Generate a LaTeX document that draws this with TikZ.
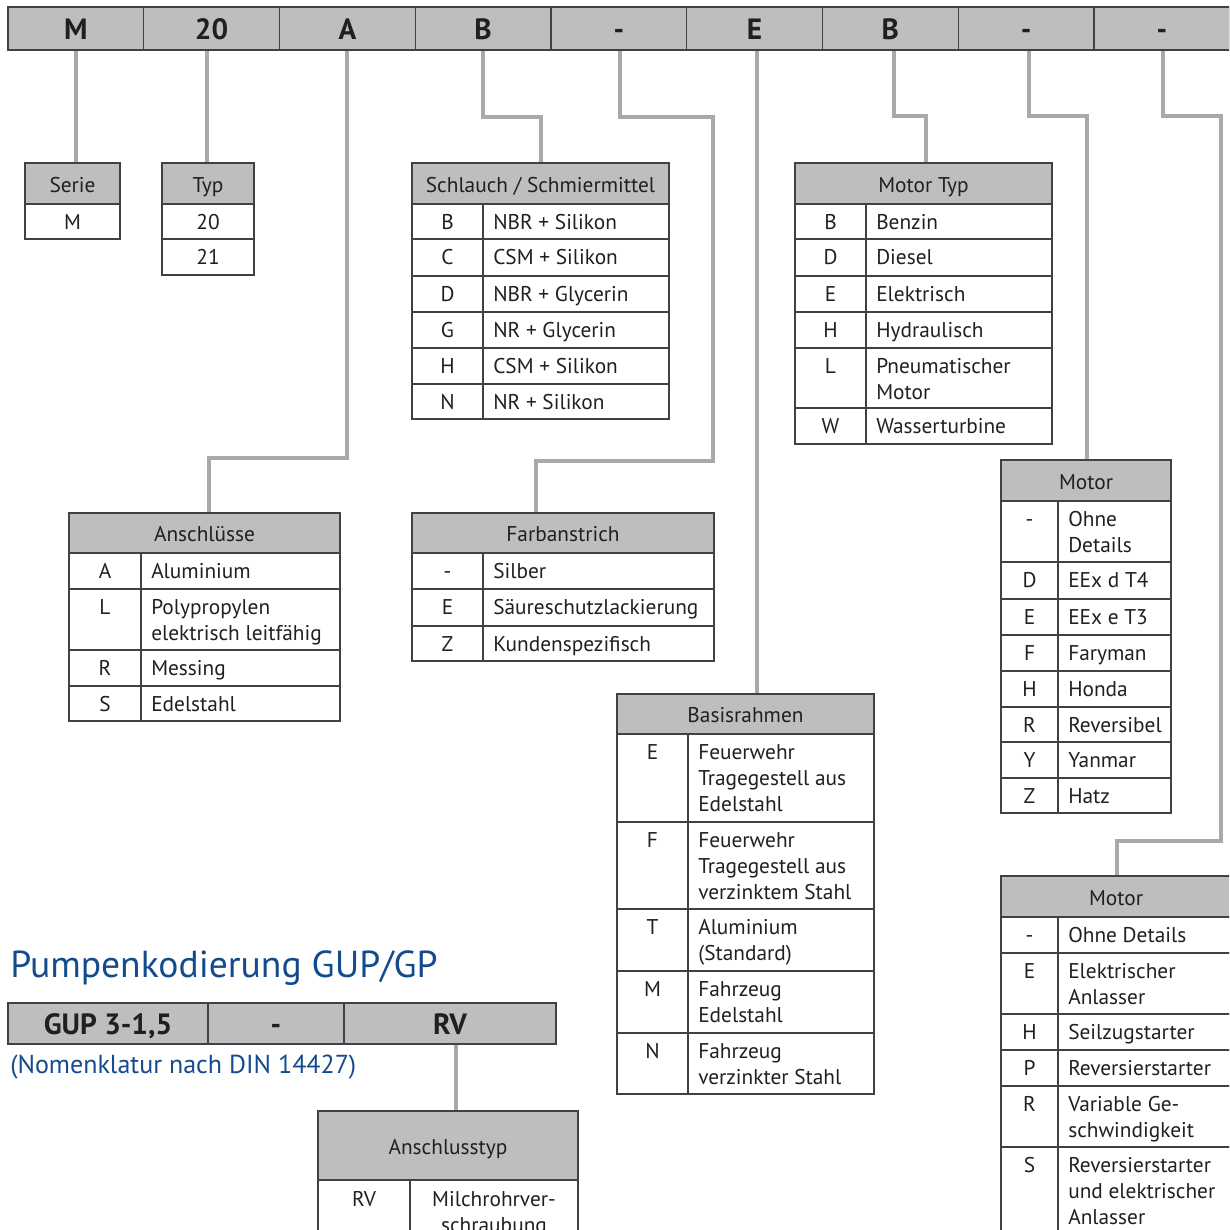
\documentclass[tikz,border=0pt]{standalone}
\usepackage{fontspec}
\setmainfont{PT Sans}
\definecolor{barfill}{RGB}{188,190,192}
\definecolor{connc}{RGB}{167,169,172}
\definecolor{bordc}{RGB}{65,64,66}
\definecolor{txtc}{RGB}{35,31,32}
\definecolor{titleblue}{RGB}{20,75,140}
\newcommand\bodyfont{\fontsize{16}{19.5}\selectfont}
\newcommand\ml[1]{\begin{tabular}[t]{@{}l@{}}#1\end{tabular}}
\newcommand\mc[1]{\begin{tabular}[t]{@{}c@{}}#1\end{tabular}}
% header: name x1 y1 x2 y2 text
\newcommand\hd[6]{\node[hdrbox, minimum width={(#4-#2)*0.75pt}, minimum height={(#5-#3)*0.75pt}] (#1) at ({(#2+#4)/2},{(#3+#5)/2}) {#6};}
% row: name x1 xd x2 y1 y2 key value
\newcommand\rw[8]{\draw[cellline] (#2,#5) rectangle (#4,#6); \draw[cellline] (#3,#5) -- (#3,#6);
 \node[txt, anchor=base] (#1k) at ({(#2+#3)/2},{#5+25.5}) {#7};
 \node[txt, anchor=base west] (#1v) at ({#3+10},{#5+25.5}) {\ml{#8}};}
% single column row: name x1 x2 y1 y2 text
\newcommand\rwone[6]{\draw[cellline] (#2,#4) rectangle (#3,#5);
 \node[txt, anchor=base] (#1) at ({(#2+#3)/2},{#4+25.5}) {#6};}
\pgfdeclarelayer{bg}
\pgfsetlayers{bg,main}
\begin{document}
\begin{tikzpicture}[x=0.75pt,y=-0.75pt,
  conn/.style={draw=connc, line width=3pt},
  barcell/.style={draw=bordc, fill=barfill, line width=1pt, minimum width=101.8125pt, minimum height=32.25pt, inner sep=0pt, font=\fontsize{22}{24}\selectfont\bfseries, text=txtc, text height=19.5pt, text depth=2.6pt},
  gupcell/.style={draw=bordc, fill=barfill, line width=1pt, minimum height=30.75pt, inner sep=0pt, font=\fontsize{22}{24}\selectfont\bfseries, text=txtc, text height=19.5pt, text depth=2.6pt},
  hdrbox/.style={draw=bordc, fill=barfill, line width=1pt, inner sep=0pt, font=\bodyfont, text=txtc, text height=15.5pt, text depth=2.5pt},
  cellline/.style={draw=bordc, fill=white, line width=1pt},
  txt/.style={inner sep=0pt, font=\bodyfont, text=txtc},
  ttl/.style={inner sep=0pt, text=titleblue, anchor=base west}]
\useasboundingbox (0,0) rectangle (1229,1230);
\clip (0,0) rectangle (1229,1230);

% top code bar
\foreach[count=\i] \t in {M,20,A,B,-,E,B,-,-}
  \node[barcell] (c\i) at ({8+135.75*(\i-0.5)},28.5) {\t};

% Serie
\hd{serie}{25}{163}{120}{204}{Serie}
\rwone{serieM}{25}{120}{204}{239}{M}
% Typ
\hd{typ}{162}{163}{254}{204}{Typ}
\rwone{typ20}{162}{254}{204}{239}{20}
\rwone{typ21}{162}{254}{239}{275}{21}
% Schlauch / Schmiermittel
\hd{schlauch}{412}{163}{669}{204}{Schlauch / Schmiermittel}
\rw{sa}{412}{483}{669}{204}{239}{B}{NBR + Silikon}
\rw{sb}{412}{483}{669}{239}{276}{C}{CSM + Silikon}
\rw{sc}{412}{483}{669}{276}{312}{D}{NBR + Glycerin}
\rw{sd}{412}{483}{669}{312}{348}{G}{NR + Glycerin}
\rw{se}{412}{483}{669}{348}{384}{H}{CSM + Silikon}
\rw{sf}{412}{483}{669}{384}{419}{N}{NR + Silikon}
% Motor Typ
\hd{mtyp}{795}{163}{1052}{204}{Motor Typ}
\rw{ta}{795}{866}{1052}{204}{239}{B}{Benzin}
\rw{tb}{795}{866}{1052}{239}{276}{D}{Diesel}
\rw{tc}{795}{866}{1052}{276}{312}{E}{Elektrisch}
\rw{td}{795}{866}{1052}{312}{348}{H}{Hydraulisch}
\rw{te}{795}{866}{1052}{348}{408}{L}{Pneumatischer\\Motor}
\rw{tf}{795}{866}{1052}{408}{444}{W}{Wasserturbine}
% Anschluesse
\hd{anschl}{69}{513}{340}{553}{Anschlüsse}
\rw{aa}{69}{141}{340}{553}{589}{A}{Aluminium}
\rw{ab}{69}{141}{340}{589}{650}{L}{Polypropylen\\elektrisch leitfähig}
\rw{ac}{69}{141}{340}{650}{686}{R}{Messing}
\rw{ad}{69}{141}{340}{686}{721}{S}{Edelstahl}
% Farbanstrich
\hd{farb}{412}{513}{714}{553}{Farbanstrich}
\rw{fa}{412}{483}{714}{553}{589}{-}{Silber}
\rw{fb}{412}{483}{714}{589}{626}{E}{Säureschutzlackierung}
\rw{fc}{412}{483}{714}{626}{661}{Z}{Kundenspezifisch}
% Basisrahmen
\hd{basis}{617}{694}{874}{734}{Basisrahmen}
\rw{ba}{617}{688}{874}{734}{822}{E}{Feuerwehr\\Tragegestell aus\\Edelstahl}
\rw{bb}{617}{688}{874}{822}{909}{F}{Feuerwehr\\Tragegestell aus\\verzinktem Stahl}
\rw{bc}{617}{688}{874}{909}{971}{T}{Aluminium\\(Standard)}
\rw{bd}{617}{688}{874}{971}{1033}{M}{Fahrzeug\\Edelstahl}
\rw{be}{617}{688}{874}{1033}{1094}{N}{Fahrzeug\\verzinkter Stahl}
% Motor 1
\hd{motorA}{1001}{460}{1171}{501}{Motor}
\rw{ma}{1001}{1058}{1171}{501}{562}{-}{Ohne\\Details}
\rw{mb}{1001}{1058}{1171}{562}{599}{D}{EEx d T4}
\rw{mc}{1001}{1058}{1171}{599}{635}{E}{EEx e T3}
\rw{md}{1001}{1058}{1171}{635}{671}{F}{Faryman}
\rw{me}{1001}{1058}{1171}{671}{707}{H}{Honda}
\rw{mf}{1001}{1058}{1171}{707}{742}{R}{Reversibel}
\rw{mg}{1001}{1058}{1171}{742}{778}{Y}{Yanmar}
\rw{mh}{1001}{1058}{1171}{778}{813}{Z}{Hatz}
% Motor 2
\hd{motorB}{1001}{876}{1231}{917}{Motor}
\rw{na}{1001}{1058}{1231}{917}{953}{-}{Ohne Details}
\rw{nb}{1001}{1058}{1231}{953}{1014}{E}{Elektrischer\\Anlasser}
\rw{nc}{1001}{1058}{1231}{1014}{1050}{H}{Seilzugstarter}
\rw{nd}{1001}{1058}{1231}{1050}{1086}{P}{Reversierstarter}
\rw{ne}{1001}{1058}{1231}{1086}{1147}{R}{Variable Ge-\\schwindigkeit}
\rw{nf}{1001}{1058}{1231}{1147}{1250}{S}{Reversierstarter\\und elektrischer\\Anlasser}

% Pumpenkodierung GUP/GP
\node[ttl, font=\fontsize{28.2}{33}\selectfont] (title) at (10,977) {Pumpenkodierung GUP/GP};
\node[gupcell, minimum width=150pt] (g1) at (108,1023.5) {GUP 3-1,5};
\node[gupcell, minimum width=102pt] (g2) at (276,1023.5) {-};
\node[gupcell, minimum width=159pt] (g3) at (450,1023.5) {RV};
\node[ttl, font=\fontsize{19.5}{23}\selectfont] (nomen) at (10,1073) {(Nomenklatur nach DIN 14427)};
\hd{atyp}{318}{1111}{578}{1180}{Anschlusstyp}
\draw[cellline] (318,1180) rectangle (578,1250); \draw[cellline] (410,1180) -- (410,1250);
\node[txt, anchor=base] (rvk) at (364,1206) {RV};
\node[txt, anchor=base] (rvv) at (494,1206) {\mc{Milchrohrver-\\schraubung}};

% connectors
\begin{pgfonlayer}{bg}
\coordinate (k1) at (76,100);
\draw[conn] (c1.south -| k1) -- (serie.north -| k1);
\coordinate (k2) at (207,100);
\draw[conn] (c2.south -| k2) -- (typ.north -| k2);
\coordinate (k3a) at (347,458); \coordinate (k3b) at (209,458);
\draw[conn] (c3.south -| k3a) -- (k3a) -- (k3b) -- (anschl.north -| k3b);
\coordinate (k4a) at (483,117); \coordinate (k4b) at (541,117);
\draw[conn] (c4.south -| k4a) -- (k4a) -- (k4b) -- (schlauch.north -| k4b);
\coordinate (k5a) at (620,117); \coordinate (k5b) at (713,117);
\coordinate (k5c) at (713,461); \coordinate (k5d) at (536,461);
\draw[conn] (c5.south -| k5a) -- (k5a) -- (k5b) -- (k5c) -- (k5d) -- (farb.north -| k5d);
\coordinate (k6) at (757,300);
\draw[conn] (c6.south -| k6) -- (basis.north -| k6);
\coordinate (k7a) at (894,116); \coordinate (k7b) at (926,116);
\draw[conn] (c7.south -| k7a) -- (k7a) -- (k7b) -- (mtyp.north -| k7b);
\coordinate (k8a) at (1029,116); \coordinate (k8b) at (1087,116);
\draw[conn] (c8.south -| k8a) -- (k8a) -- (k8b) -- (motorA.north -| k8b);
\coordinate (k9a) at (1163,116); \coordinate (k9b) at (1221,116);
\coordinate (k9c) at (1221,841); \coordinate (k9d) at (1117,841);
\draw[conn] (c9.south -| k9a) -- (k9a) -- (k9b) -- (k9c) -- (k9d) -- (motorB.north -| k9d);
\coordinate (k10) at (456,1080);
\draw[conn] (g3.south -| k10) -- (atyp.north -| k10);
\end{pgfonlayer}
\end{tikzpicture}
\end{document}
